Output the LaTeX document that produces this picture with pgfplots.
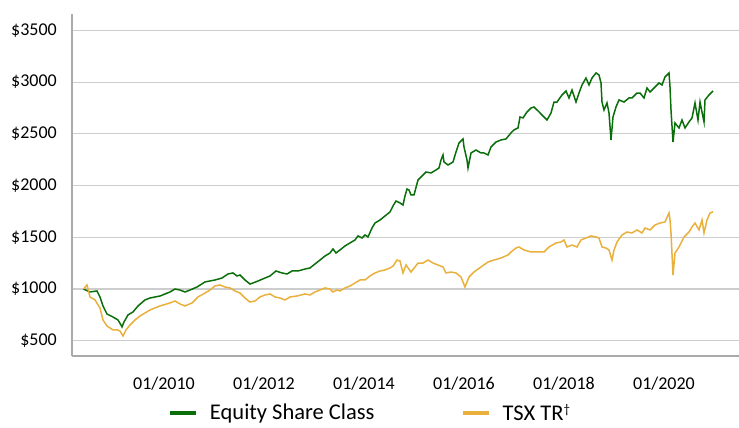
\documentclass[border=0pt]{standalone}
\usepackage{pgfplots}
\pgfplotsset{compat=1.18}
\usepackage{fontspec}
\setmainfont{Carlito}
\definecolor{eqgreen}{RGB}{10,110,10}
\definecolor{tsxgold}{RGB}{233,176,60}
\definecolor{gridgray}{RGB}{205,205,205}
\definecolor{axisgray}{RGB}{170,170,170}
\begin{document}
\begin{tikzpicture}
\useasboundingbox (0,0) rectangle (739bp,428bp);
\begin{axis}[
  at={(72bp,72bp)}, anchor=south west,
  scale only axis, width=667bp, height=342bp,
  xmin=2008.16, xmax=2021.50, ymin=352, ymax=3659,
  axis x line=bottom, axis y line=left,
  axis line style={-, draw=axisgray, line width=1.5bp},
  ymajorgrids, grid style={draw=gridgray, line width=1.2bp},
  major tick length=0pt,
  xtick={2010,2012,2014,2016,2018,2020},
  xticklabels={01/2010,01/2012,01/2014,01/2016,01/2018,01/2020},
  ytick={500,1000,1500,2000,2500,3000,3500},
  yticklabels={\$500,\$1000,\$1500,\$2000,\$2500,\$3000,\$3500},
  xticklabel style={anchor=north, inner sep=0pt, yshift=-21bp, font=\fontsize{18bp}{20bp}\selectfont},
  yticklabel style={anchor=east, inner sep=0pt, xshift=-15bp, font=\fontsize{18bp}{20bp}\selectfont},
  legend columns=2,
  legend style={at={(0.1439,-0.166)}, anchor=west, draw=none, fill=none,
    inner sep=0pt, outer sep=0pt, nodes={inner sep=0pt},
    font=\fontsize{22.5bp}{25bp}\selectfont,
    /tikz/every even column/.append style={column sep=86bp},
    /tikz/every odd column/.append style={column sep=12bp}},
  legend image code/.code={\draw[#1, line width=4bp] (0bp,0bp) -- (26bp,0bp);},
]
\addplot[eqgreen, line width=1.5bp] coordinates {
(2008.39,1000)(2008.52,971)(2008.66,981)(2008.72,923)(2008.78,836)(2008.86,758)
(2008.98,729)(2009.08,700)(2009.14,652)(2009.16,633)(2009.20,681)(2009.28,749)
(2009.38,778)(2009.48,836)(2009.62,894)(2009.72,913)(2009.92,932)(2010.12,971)
(2010.22,1000)(2010.32,990)(2010.42,971)(2010.52,990)(2010.66,1019)(2010.82,1068)
(2011.02,1087)(2011.16,1106)(2011.28,1145)(2011.38,1155)(2011.46,1126)(2011.52,1135)
(2011.62,1087)(2011.72,1048)(2011.78,1058)(2011.88,1077)(2012.02,1106)(2012.12,1126)
(2012.24,1174)(2012.36,1155)(2012.46,1145)(2012.56,1174)(2012.68,1174)(2012.82,1193)
(2012.92,1203)(2013.02,1242)(2013.12,1280)(2013.22,1319)(2013.32,1348)(2013.38,1387)
(2013.44,1348)(2013.52,1377)(2013.62,1416)(2013.72,1445)(2013.82,1474)(2013.88,1513)
(2013.96,1493)(2014.02,1522)(2014.08,1503)(2014.16,1590)(2014.22,1638)(2014.32,1667)
(2014.42,1706)(2014.52,1745)(2014.58,1803)(2014.64,1851)(2014.72,1832)(2014.78,1812)
(2014.82,1899)(2014.86,1967)(2014.90,1957)(2014.94,1909)(2015.00,1909)(2015.08,2054)
(2015.14,2083)(2015.24,2131)(2015.34,2122)(2015.44,2151)(2015.50,2170)(2015.54,2247)
(2015.58,2296)(2015.60,2228)(2015.68,2199)(2015.78,2228)(2015.84,2325)(2015.90,2412)
(2015.98,2451)(2016.00,2373)(2016.06,2247)(2016.08,2170)(2016.14,2315)(2016.24,2344)
(2016.34,2315)(2016.40,2315)(2016.48,2296)(2016.54,2373)(2016.64,2421)(2016.74,2441)
(2016.84,2451)(2016.94,2509)(2017.00,2538)(2017.08,2557)(2017.12,2663)(2017.18,2654)
(2017.26,2712)(2017.34,2750)(2017.40,2760)(2017.50,2712)(2017.60,2663)(2017.66,2634)
(2017.74,2702)(2017.80,2808)(2017.86,2808)(2017.96,2876)(2018.04,2915)(2018.10,2847)
(2018.16,2924)(2018.24,2808)(2018.30,2895)(2018.36,2973)(2018.44,3040)(2018.50,2973)
(2018.56,3040)(2018.64,3089)(2018.70,3069)(2018.74,2992)(2018.76,2808)(2018.80,2731)
(2018.86,2799)(2018.90,2702)(2018.94,2441)(2018.98,2663)(2019.04,2760)(2019.10,2828)
(2019.20,2808)(2019.30,2847)(2019.36,2847)(2019.46,2895)(2019.52,2895)(2019.60,2847)
(2019.66,2944)(2019.72,2905)(2019.82,2953)(2019.90,2992)(2019.96,2973)(2020.02,3050)
(2020.10,3089)(2020.12,2953)(2020.14,2731)(2020.18,2421)(2020.22,2605)(2020.30,2557)
(2020.36,2634)(2020.42,2557)(2020.50,2615)(2020.56,2654)(2020.62,2799)(2020.68,2634)
(2020.72,2808)(2020.80,2615)(2020.82,2828)(2020.90,2876)(2020.98,2915)
};
\addlegendentry{Equity Share Class}
\addplot[tsxgold, line width=1.5bp] coordinates {
(2008.39,1000)(2008.46,1039)(2008.52,923)(2008.62,894)(2008.72,816)(2008.78,700)
(2008.86,642)(2008.92,623)(2008.98,604)(2009.06,604)(2009.12,594)(2009.18,545)
(2009.24,604)(2009.32,652)(2009.42,700)(2009.52,739)(2009.62,768)(2009.72,797)
(2009.92,836)(2010.12,865)(2010.22,884)(2010.32,855)(2010.42,836)(2010.56,865)
(2010.68,923)(2010.82,961)(2010.92,990)(2011.02,1029)(2011.12,1039)(2011.22,1019)
(2011.32,1010)(2011.42,981)(2011.52,961)(2011.62,913)(2011.72,874)(2011.82,884)
(2011.92,923)(2012.02,942)(2012.12,952)(2012.22,923)(2012.32,913)(2012.42,894)
(2012.52,923)(2012.66,932)(2012.82,952)(2012.92,942)(2013.02,971)(2013.12,990)
(2013.22,1010)(2013.32,1000)(2013.38,971)(2013.46,990)(2013.52,981)(2013.62,1010)
(2013.72,1029)(2013.82,1058)(2013.92,1087)(2014.02,1087)(2014.12,1126)(2014.22,1155)
(2014.32,1174)(2014.42,1184)(2014.52,1203)(2014.58,1222)(2014.66,1280)(2014.72,1271)
(2014.78,1155)(2014.84,1232)(2014.94,1164)(2015.08,1251)(2015.18,1251)(2015.28,1280)
(2015.38,1251)(2015.48,1232)(2015.58,1213)(2015.64,1155)(2015.74,1164)(2015.84,1155)
(2015.94,1116)(2016.02,1019)(2016.10,1116)(2016.20,1164)(2016.34,1213)(2016.48,1261)
(2016.60,1280)(2016.74,1300)(2016.88,1329)(2016.94,1358)(2017.04,1396)(2017.10,1406)
(2017.20,1377)(2017.34,1358)(2017.46,1358)(2017.60,1358)(2017.70,1406)(2017.84,1445)
(2017.94,1454)(2018.00,1474)(2018.06,1406)(2018.16,1425)(2018.26,1406)(2018.34,1474)
(2018.44,1493)(2018.54,1513)(2018.64,1503)(2018.70,1493)(2018.76,1406)(2018.84,1396)
(2018.90,1377)(2018.96,1280)(2019.00,1377)(2019.06,1454)(2019.16,1522)(2019.26,1551)
(2019.36,1542)(2019.46,1571)(2019.56,1542)(2019.62,1590)(2019.72,1571)(2019.82,1619)
(2019.92,1638)(2020.02,1648)(2020.10,1735)(2020.12,1667)(2020.14,1542)(2020.18,1135)
(2020.22,1348)(2020.30,1406)(2020.40,1503)(2020.50,1551)(2020.56,1600)(2020.62,1638)
(2020.70,1571)(2020.76,1667)(2020.80,1542)(2020.86,1667)(2020.92,1735)(2020.98,1745)
};
\addlegendentry{TSX TR\raisebox{7bp}{\fontsize{13bp}{14bp}\selectfont\textdagger}}
\end{axis}
\end{tikzpicture}
\end{document}
